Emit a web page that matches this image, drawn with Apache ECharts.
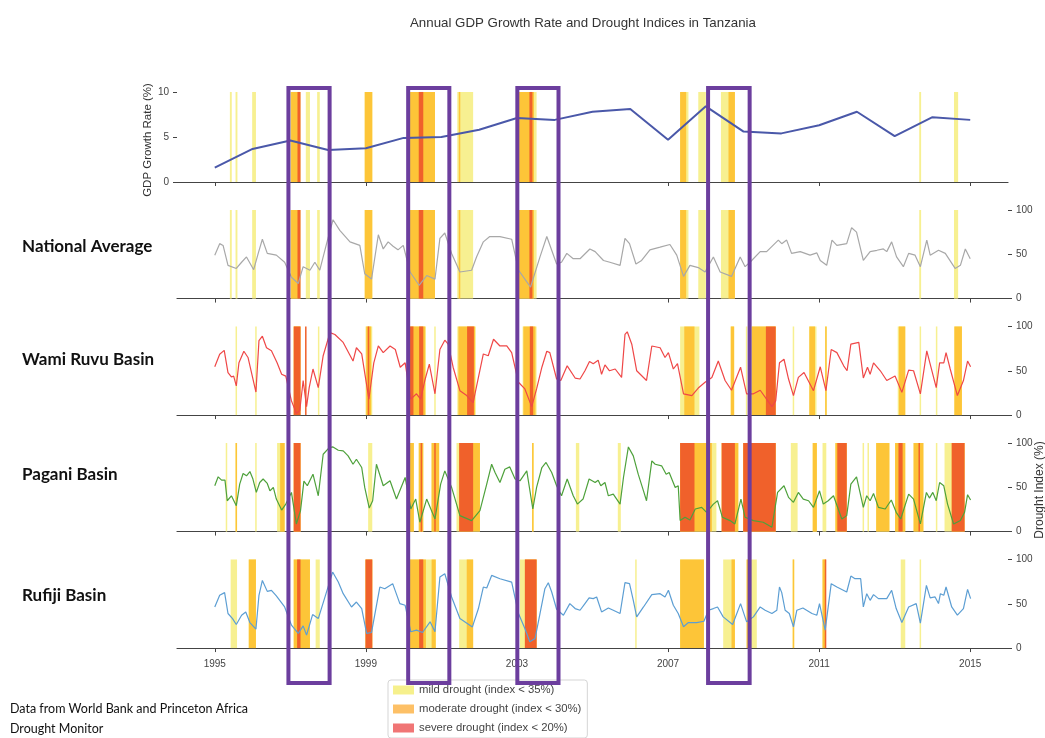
<!DOCTYPE html>
<html>
<head>
<meta charset="utf-8">
<script src="https://cdn.jsdelivr.net/npm/echarts@6/dist/echarts.min.js"></script>
<style>
html,body{margin:0;padding:0;background:#fff;}
#main{width:1045px;height:738px;}
</style>
</head>
<body>
<div id="main"></div>
<script>
// ---------------- DATA ----------------
const yearTicks = [1995, 1999, 2003, 2007, 2011, 2015];
const gdpYears = [1995,1996,1997,1998,1999,2000,2001,2002,2003,2004,2005,2006,2007,2008,2009,2010,2011,2012,2013,2014,2015];
const gdpValues = [1.6,3.67,4.6,3.55,3.75,4.9,5.0,5.8,7.1,6.9,7.8,8.1,4.7,8.4,5.6,5.4,6.3,7.8,5.1,7.2,6.9];

const natT = [1995.00,1995.13,1995.22,1995.35,1995.57,1995.71,1995.84,1996.03,1996.15,1996.26,1996.39,1996.63,1996.85,1997.03,1997.21,1997.34,1997.52,1997.65,1997.78,1997.96,1998.13,1998.31,1998.58,1998.84,1998.97,1999.15,1999.33,1999.46,1999.59,1999.72,1999.85,1999.99,2000.17,2000.41,2000.61,2000.83,2000.96,2001.09,2001.27,2001.49,2001.80,2001.93,2002.11,2002.28,2002.55,2002.86,2003.04,2003.36,2003.61,2003.79,2004.05,2004.18,2004.32,2004.49,2004.67,2004.93,2005.07,2005.29,2005.46,2005.73,2005.86,2005.98,2006.15,2006.30,2006.52,2006.79,2007.05,2007.23,2007.41,2007.58,2007.80,2007.98,2008.20,2008.38,2008.68,2008.91,2009.04,2009.17,2009.44,2009.61,2009.92,2010.01,2010.14,2010.27,2010.50,2010.76,2010.94,2011.03,2011.20,2011.34,2011.47,2011.73,2011.86,2011.99,2012.17,2012.35,2012.53,2012.70,2012.79,2012.92,2013.05,2013.23,2013.37,2013.54,2013.68,2013.85,2013.94,2014.16,2014.34,2014.60,2014.74,2014.87,2015.00];
const natV = [49,62,60,37.5,34,41,47,32.6,51,67,51,49,41,24,17,36,32,41,32,62,89,77,64,60,28,22,72,56,64,59,55,60,30,15,26,22,68,74,51,30,32,47,64,70,70,67,32,13,47,70,39,41,51,45,45,56,53,43,41,37.5,68,62,39,43,55,58,61,49,25,37.5,35,30,47,30,25,47,36,41,53,53,66,62,66,51,53,49,51.5,43,37.5,66,60,62,80,75,43,53,54.5,56,53,64,47,36,51,49,36,66,49,54.5,51,34,37.5,56,45];

const wamiT = [1995.00,1995.13,1995.25,1995.35,1995.44,1995.50,1995.57,1995.64,1995.77,1995.88,1996.09,1996.17,1996.26,1996.37,1996.50,1996.65,1996.77,1996.88,1997.03,1997.16,1997.25,1997.34,1997.43,1997.50,1997.60,1997.74,1997.87,1998.05,1998.18,1998.40,1998.66,1998.75,1998.89,1999.08,1999.21,1999.33,1999.46,1999.64,1999.78,1999.91,2000.04,2000.19,2000.34,2000.45,2000.56,2000.68,2000.83,2000.96,2001.09,2001.18,2001.31,2001.49,2001.67,2001.84,2001.98,2002.11,2002.24,2002.38,2002.55,2002.73,2002.86,2003.04,2003.21,2003.39,2003.52,2003.66,2003.79,2003.87,2004.05,2004.16,2004.33,2004.54,2004.67,2004.80,2004.92,2005.02,2005.15,2005.24,2005.33,2005.45,2005.60,2005.77,2005.86,2005.92,2006.04,2006.17,2006.43,2006.57,2006.79,2006.92,2007.01,2007.14,2007.25,2007.41,2007.63,2007.80,2007.98,2008.16,2008.33,2008.51,2008.68,2008.92,2009.08,2009.26,2009.44,2009.75,2009.85,2009.95,2010.07,2010.19,2010.32,2010.45,2010.60,2010.85,2011.03,2011.18,2011.32,2011.47,2011.65,2011.74,2011.84,2012.05,2012.17,2012.28,2012.35,2012.44,2012.62,2012.79,2013.01,2013.19,2013.37,2013.50,2013.68,2013.85,2013.94,2014.10,2014.19,2014.30,2014.36,2014.47,2014.66,2014.82,2014.93,2015.01];
const wamiV = [54.5,68.7,73,48,43,44,33,59,72,65,26,84,89,76,72.5,59,46,44,16,2,5,39,9.5,31,52,31,67,93,91,82,61,76,69,18,59,78,70.5,78,74,54,59,18,24,18,39,57.5,24,74,84.5,80,54,27.5,22,14,42.5,69,67,85.6,78,78,70.5,37,29.5,9.5,29.5,54,72,70.5,40.7,39,55.6,41.8,40.7,50,60.5,58,62,46,56.7,50,52,42.5,91,94,80,50,39,78,76,65,70.5,52,58,24,22,30.5,37,42.5,61,39,28,54,24,24,28,9.5,16,59,63,40.7,22,42.5,48,27.5,54.5,27.5,74,70.5,55.6,50,80,82,41.8,54,46,59,50,39,44,25.6,50.8,50,24,72.5,57.5,31,59,59,70.5,52,22,39,61,54.5];

const pagT = [1995.00,1995.09,1995.18,1995.27,1995.33,1995.44,1995.57,1995.66,1995.75,1995.84,1995.93,1996.01,1996.10,1996.19,1996.28,1996.39,1996.46,1996.55,1996.63,1996.77,1996.88,1997.03,1997.16,1997.27,1997.36,1997.45,1997.60,1997.74,1997.87,1998.03,1998.13,1998.27,1998.40,1998.53,1998.66,1998.75,1998.89,1998.97,1999.09,1999.18,1999.28,1999.46,1999.64,1999.81,2000.04,2000.19,2000.32,2000.43,2000.61,2000.83,2000.98,2001.09,2001.27,2001.49,2001.80,2002.02,2002.20,2002.33,2002.42,2002.55,2002.68,2002.81,2002.95,2003.08,2003.26,2003.42,2003.52,2003.66,2003.77,2003.92,2004.05,2004.18,2004.33,2004.49,2004.60,2004.75,2004.91,2005.07,2005.15,2005.22,2005.33,2005.42,2005.55,2005.73,2005.82,2005.95,2006.08,2006.21,2006.35,2006.43,2006.57,2006.66,2006.83,2006.95,2007.03,2007.19,2007.27,2007.32,2007.45,2007.58,2007.72,2007.89,2008.02,2008.20,2008.31,2008.44,2008.64,2008.77,2008.93,2009.04,2009.26,2009.52,2009.75,2009.90,2010.07,2010.19,2010.32,2010.45,2010.58,2010.72,2010.85,2011.01,2011.11,2011.24,2011.38,2011.60,2011.73,2011.84,2011.99,2012.17,2012.26,2012.35,2012.44,2012.57,2012.75,2012.91,2013.04,2013.16,2013.37,2013.50,2013.68,2013.84,2013.92,2014.01,2014.10,2014.19,2014.30,2014.40,2014.56,2014.74,2014.85,2014.93,2015.01];
const pagV = [51.7,61.8,58,58,34.8,40.4,29.2,53.6,65.5,63,67.8,59.3,44.2,55.4,59.3,54.3,46,49.8,36.7,24.3,31,44.2,8.6,23.6,57,51.7,64.8,40.4,87.3,94.8,95.5,91.8,91,85.4,76,81.6,72.3,49.8,26.6,34.8,76,51.7,57.3,36.7,61.1,25.5,36.7,10.5,36.7,14.2,53.6,68.5,49.8,18,12.4,23.6,53.6,76,66.7,55.4,70.4,73,59.3,57.3,68.5,25.5,49.8,72.3,78,66.7,51.7,40.4,59.3,40.4,31,36.7,59.3,55.4,58,51.7,55.4,40.4,42.3,31,61,95.5,85.4,64.8,46,34.8,79.8,76,74.2,64.8,66.7,49.8,51.7,12.4,16.1,13.1,25.5,27.3,21.7,31,34.8,16.1,12.4,8.6,36.7,16.1,12.4,10.5,4.9,44.2,51.7,38.6,33,44.2,36.7,34.8,27.3,46,31,34.8,40.4,14.2,18,53.6,61.8,27.3,40.4,34.8,43,27.3,25.5,35.6,21.7,14.2,42.3,36.7,8.6,44.2,37.8,44.2,34.8,55.4,51.7,31,8.6,12.4,21.7,41.6,35.6];

const rufT = [1995.00,1995.13,1995.26,1995.35,1995.47,1995.57,1995.71,1995.82,1995.93,1996.09,1996.17,1996.26,1996.39,1996.50,1996.63,1996.85,1997.03,1997.21,1997.34,1997.43,1997.59,1997.74,1997.89,1998.12,1998.27,1998.40,1998.62,1998.75,1998.89,1999.02,1999.15,1999.37,1999.50,1999.71,1999.90,2000.04,2000.19,2000.34,2000.50,2000.70,2000.83,2000.96,2001.09,2001.27,2001.49,2001.82,2001.98,2002.11,2002.20,2002.33,2002.55,2002.86,2003.04,2003.21,2003.34,2003.48,2003.61,2003.74,2003.83,2003.92,2004.05,2004.23,2004.40,2004.54,2004.67,2004.80,2004.91,2005.02,2005.11,2005.24,2005.42,2005.55,2005.73,2005.86,2005.98,2006.08,2006.17,2006.35,2006.57,2006.79,2006.92,2007.01,2007.14,2007.27,2007.41,2007.54,2007.76,2007.95,2008.07,2008.20,2008.31,2008.46,2008.71,2008.92,2009.08,2009.26,2009.44,2009.57,2009.75,2009.88,2009.95,2010.01,2010.10,2010.21,2010.32,2010.41,2010.57,2010.81,2010.94,2011.01,2011.16,2011.32,2011.47,2011.73,2011.84,2011.95,2012.10,2012.17,2012.26,2012.35,2012.44,2012.57,2012.79,2012.92,2013.04,2013.19,2013.37,2013.57,2013.68,2013.84,2013.94,2014.07,2014.16,2014.21,2014.30,2014.36,2014.51,2014.66,2014.82,2014.93,2015.01];
const rufV = [46.4,59.6,62.6,39,33.3,26.6,37.1,40.8,28.8,21.3,59.6,76.4,64,65.2,58.8,46.4,25.8,16.5,25.1,14.6,37.8,33.3,53.9,85.8,74.5,61.4,46.4,52,44.6,16.5,17.6,68.9,67,72.7,50.2,48.3,18.4,20.2,17.6,29.6,18.4,80.2,83.9,57.7,33.3,23.9,44.6,68.9,67.8,82,78.3,74.5,39,22.1,7.1,10.9,39,67,73.8,63.3,43.8,37.1,50.2,44.6,42.7,50.2,56.6,55.8,57.7,40.8,45.3,42.7,39,73.8,72.7,53.9,35.2,46.4,60.3,61.4,57.7,65.2,48.3,39,24,28.8,28.8,30.3,42.7,44.6,46.4,35.2,26.6,50.2,29.6,35.2,46.4,42.7,39,42.7,68.9,62.6,42.7,39,24,42.7,45.3,39,37.1,50.2,20.2,72.7,68.9,63.3,81.3,78.3,78.3,46.4,61.4,53.9,60.3,55.8,55.8,65.2,44.6,28.8,46.4,50.2,28.1,70.8,56.6,57.7,50.2,61.4,59.6,68.9,46.4,37.1,44.6,66.3,55.8];

// drought periods [start, end] in years
const natMild = [[1995.40,1995.45],[1995.55,1995.60],[1995.99,1996.09],[1997.00,1997.27],[1997.41,1997.52],[1997.71,1997.78],[1998.97,1999.17],[2000.17,2000.83],[2001.42,2001.84],[2003.04,2003.52],[2007.32,2007.54],[2007.80,2008.00],[2008.40,2008.77],[2013.65,2013.70],[2014.57,2014.68]];
const natMod = [[1997.02,1997.21],[1998.97,1999.17],[2000.17,2000.83],[2001.46,2001.50],[2003.04,2003.45],[2007.32,2007.48],[2008.60,2008.77]];
const natSev = [[1997.19,1997.27],[2000.40,2000.52],[2003.33,2003.41]];

const wamiMild = [[1995.55,1995.59],[1996.07,1996.11],[1997.09,1997.27],[1997.73,1997.77],[1998.99,1999.17],[2000.17,2000.59],[2000.81,2000.85],[2001.42,2001.91],[2003.15,2003.52],[2007.32,2007.83],[2008.66,2008.75],[2009.06,2009.10],[2009.20,2009.85],[2010.30,2010.34],[2010.74,2010.93],[2011.16,2011.20],[2013.08,2013.28],[2013.66,2013.70],[2014.09,2014.13],[2014.58,2014.78]];
const wamiMod = [[1997.09,1997.27],[1999.01,1999.14],[2000.17,2000.57],[2001.45,2001.89],[2003.17,2003.49],[2007.43,2007.70],[2008.66,2008.75],[2009.22,2009.85],[2010.74,2010.89],[2011.16,2011.20],[2013.11,2013.28],[2014.58,2014.78]];
const wamiSev = [[1997.09,1997.27],[1997.39,1997.43],[1999.05,1999.08],[2000.17,2000.26],[2000.41,2000.52],[2001.68,2001.86],[2003.34,2003.43],[2009.59,2009.85]];

const pagMild = [[1995.29,1995.33],[1995.55,1995.59],[1996.07,1996.11],[1996.65,1996.85],[1997.09,1997.27],[1999.06,1999.17],[2000.17,2000.27],[2000.40,2000.52],[2000.74,2000.94],[2001.40,2002.02],[2003.40,2003.44],[2004.56,2004.65],[2005.67,2005.75],[2007.32,2008.28],[2008.42,2008.86],[2008.99,2009.85],[2010.25,2010.43],[2010.83,2010.94],[2011.09,2011.19],[2011.43,2011.73],[2012.15,2012.19],[2012.28,2012.32],[2012.51,2012.86],[2013.01,2013.28],[2013.50,2013.76],[2014.09,2014.13],[2014.32,2014.85]];
const pagMod = [[1995.55,1995.59],[1996.73,1996.85],[1997.09,1997.27],[2000.17,2000.27],[2000.40,2000.52],[2000.74,2000.94],[2001.47,2002.02],[2003.40,2003.44],[2007.32,2008.16],[2008.42,2008.86],[2008.99,2009.85],[2010.83,2010.94],[2011.43,2011.73],[2012.51,2012.86],[2013.01,2013.28],[2013.50,2013.76],[2014.51,2014.85]];
const pagSev = [[1997.09,1997.27],[2000.45,2000.48],[2000.81,2000.84],[2001.47,2001.84],[2007.32,2007.70],[2008.42,2008.77],[2008.99,2009.85],[2011.48,2011.73],[2013.10,2013.21],[2013.63,2013.66],[2014.51,2014.85]];

const rufMild = [[1995.42,1995.59],[1995.90,1996.09],[1997.09,1997.52],[1997.67,1997.78],[1998.99,1999.17],[2000.17,2000.85],[2001.47,2001.84],[2003.08,2003.52],[2006.13,2006.17],[2007.32,2007.95],[2008.46,2008.77],[2009.08,2009.35],[2010.30,2010.34],[2011.09,2011.18],[2013.16,2013.28],[2013.66,2013.70]];
const rufMod = [[1995.90,1996.09],[1997.09,1997.52],[1998.99,1999.17],[2000.17,2000.59],[2000.74,2000.85],[2001.67,2001.84],[2003.21,2003.52],[2007.32,2007.95],[2008.68,2008.77],[2009.08,2009.12],[2010.30,2010.34],[2011.09,2011.18]];
const rufSev = [[1997.18,1997.27],[1998.99,1999.17],[2000.41,2000.52],[2003.21,2003.52],[2011.15,2011.17]];

// highlighted periods (purple boxes)
const boxStart = [1996.95, 2000.12, 2003.01, 2008.06];
const boxEnd = [1998.04, 2001.21, 2004.10, 2009.16];

const panelNames = ['National Average', 'Wami Ruvu Basin', 'Pagani Basin', 'Rufiji Basin'];
const legendNames = ['mild drought (index < 35%)', 'moderate drought (index < 30%)', 'severe drought (index < 20%)'];

// ---------------- CHART ----------------
const chart = echarts.init(document.getElementById('main'), null, {renderer: 'canvas'});

const FONT = 'Liberation Sans';
const LEFT = 177, RIGHT = 37, H = 116.5;
const tops = [70, 186.5, 303, 419.5, 536];

const fillColors = ['#F7F091', '#FDC538', '#F0612B'];
const legendColors = ['#F6F08C', '#FDC066', '#F07575'];
const lineColors = ['#A8A8A8', '#EF4747', '#4EA13B', '#5C9ED3'];

const grids = tops.map(t => ({left: LEFT, right: RIGHT, top: t, height: H}));

const xAxes = tops.map((t, i) => ({
  type: 'value', gridIndex: i, min: 1994, max: 2016,
  axisLine: {show: true, lineStyle: {color: '#444', width: 1.2}},
  axisTick: {show: true, length: 4, lineStyle: {color: '#444'}, customValues: yearTicks},
  axisLabel: {show: i === 4, customValues: yearTicks, formatter: v => String(v),
    fontFamily: FONT, fontSize: 10, color: '#444', margin: 7},
  splitLine: {show: false}
}));

const yAxes = tops.map((t, i) => i === 0 ? ({
  type: 'value', gridIndex: 0, position: 'left', min: -0.5, max: 12.44,
  axisLine: {show: false},
  axisTick: {show: true, length: 4, lineStyle: {color: '#444'}, customValues: [0, 5, 10]},
  axisLabel: {customValues: [0, 5, 10], fontFamily: FONT, fontSize: 10, color: '#444', margin: 8},
  splitLine: {show: false}
}) : ({
  type: 'value', gridIndex: i, position: 'right', min: -5, max: 126.5,
  axisLine: {show: false},
  axisTick: {show: true, length: 4, lineStyle: {color: '#444'}, customValues: [0, 50, 100]},
  axisLabel: {customValues: [0, 50, 100], fontFamily: FONT, fontSize: 10, color: '#444', margin: 8},
  splitLine: {show: false}
}));

function spanSeries(periods, level, gridIdx, topVal) {
  const fill = fillColors[level];
  return {
    type: 'custom', name: legendNames[level],
    xAxisIndex: gridIdx, yAxisIndex: gridIdx, z: 1 + level * 0.1,
    itemStyle: {color: legendColors[level]},
    encode: {x: [0, 1]},
    silent: true,
    data: periods,
    renderItem: function (params, api) {
      const p0 = api.coord([api.value(0), topVal]);
      const p1 = api.coord([api.value(1), 0]);
      return {
        type: 'rect',
        shape: {x: p0[0], y: p0[1], width: Math.max(p1[0] - p0[0], 1.5), height: p1[1] - p0[1]},
        style: {fill: fill}
      };
    }
  };
}

const periodSets = [
  [natMild, natMod, natSev],
  [natMild, natMod, natSev],
  [wamiMild, wamiMod, wamiSev],
  [pagMild, pagMod, pagSev],
  [rufMild, rufMod, rufSev]
];

const series = [];
periodSets.forEach((sets, g) => {
  sets.forEach((p, lvl) => series.push(spanSeries(p, lvl, g, g === 0 ? 10 : 100)));
});

function lineSeries(ts, vs, g, color, width) {
  return {
    type: 'line', xAxisIndex: g, yAxisIndex: g, z: 5,
    data: ts.map((t, i) => [t, vs[i]]),
    showSymbol: false, symbol: 'none', silent: true,
    lineStyle: {color: color, width: width}
  };
}
series.push(lineSeries(gdpYears, gdpValues, 0, '#4A58A9', 2));
series.push(lineSeries(natT, natV, 1, lineColors[0], 1.2));
series.push(lineSeries(wamiT, wamiV, 2, lineColors[1], 1.2));
series.push(lineSeries(pagT, pagV, 3, lineColors[2], 1.2));
series.push(lineSeries(rufT, rufV, 4, lineColors[3], 1.2));

chart.setOption({
  animation: false,
  backgroundColor: '#fff',
  title: {
    text: 'Annual GDP Growth Rate and Drought Indices in Tanzania',
    left: 405, top: 12,
    textStyle: {fontFamily: FONT, fontSize: 13.3, fontWeight: 'normal', color: '#333'}
  },
  legend: {
    data: legendNames, orient: 'vertical', left: 388, top: 680,
    icon: 'rect', itemWidth: 21, itemHeight: 9, itemGap: 5,
    selectedMode: false,
    padding: [3, 6, 3, 5],
    borderColor: '#d5d5d5', borderWidth: 1, borderRadius: 3,
    textStyle: {fontFamily: FONT, fontSize: 11.3, color: '#444', lineHeight: 14}
  },
  grid: grids,
  xAxis: xAxes,
  yAxis: yAxes,
  series: series
});

// overlays: purple highlight boxes and text labels
const boxTop = 10.45, boxBottom = -39.5;
const graphics = [];
boxStart.forEach((s, i) => {
  const tl = chart.convertToPixel({gridIndex: 0}, [s, boxTop]);
  const br = chart.convertToPixel({gridIndex: 4}, [boxEnd[i], boxBottom]);
  graphics.push({
    type: 'rect', id: 'box' + i, z: 100,
    shape: {x: tl[0], y: tl[1], width: br[0] - tl[0], height: br[1] - tl[1]},
    style: {fill: 'none', stroke: '#6C3E9E', lineWidth: 4}
  });
});
const labelY = [249, 362, 477, 598];
panelNames.forEach((n, i) => {
  graphics.push({
    type: 'text', id: 'pn' + i, left: 22, top: labelY[i] - 11, z: 50,
    style: {text: n, font: 'bold 17px Lato', fill: '#111'}
  });
});
graphics.push({
  type: 'text', id: 'gdpname', x: 148, y: 140, rotation: Math.PI / 2, z: 50,
  style: {text: 'GDP Growth Rate (%)', font: '11.5px "Liberation Sans"', fill: '#333', textAlign: 'center', textVerticalAlign: 'middle'}
});
graphics.push({
  type: 'text', id: 'dname', x: 1040, y: 490, rotation: Math.PI / 2, z: 50,
  style: {text: 'Drought Index (%)', font: '12px "Liberation Sans"', fill: '#333', textAlign: 'center', textVerticalAlign: 'middle'}
});
graphics.push({
  type: 'text', id: 'note', left: 10, top: 699, z: 50,
  style: {text: 'Data from World Bank and Princeton Africa\nDrought Monitor', font: '12.5px Lato', lineHeight: 20, fill: '#111'}
});
chart.setOption({graphic: graphics});
</script>
</body>
</html>
